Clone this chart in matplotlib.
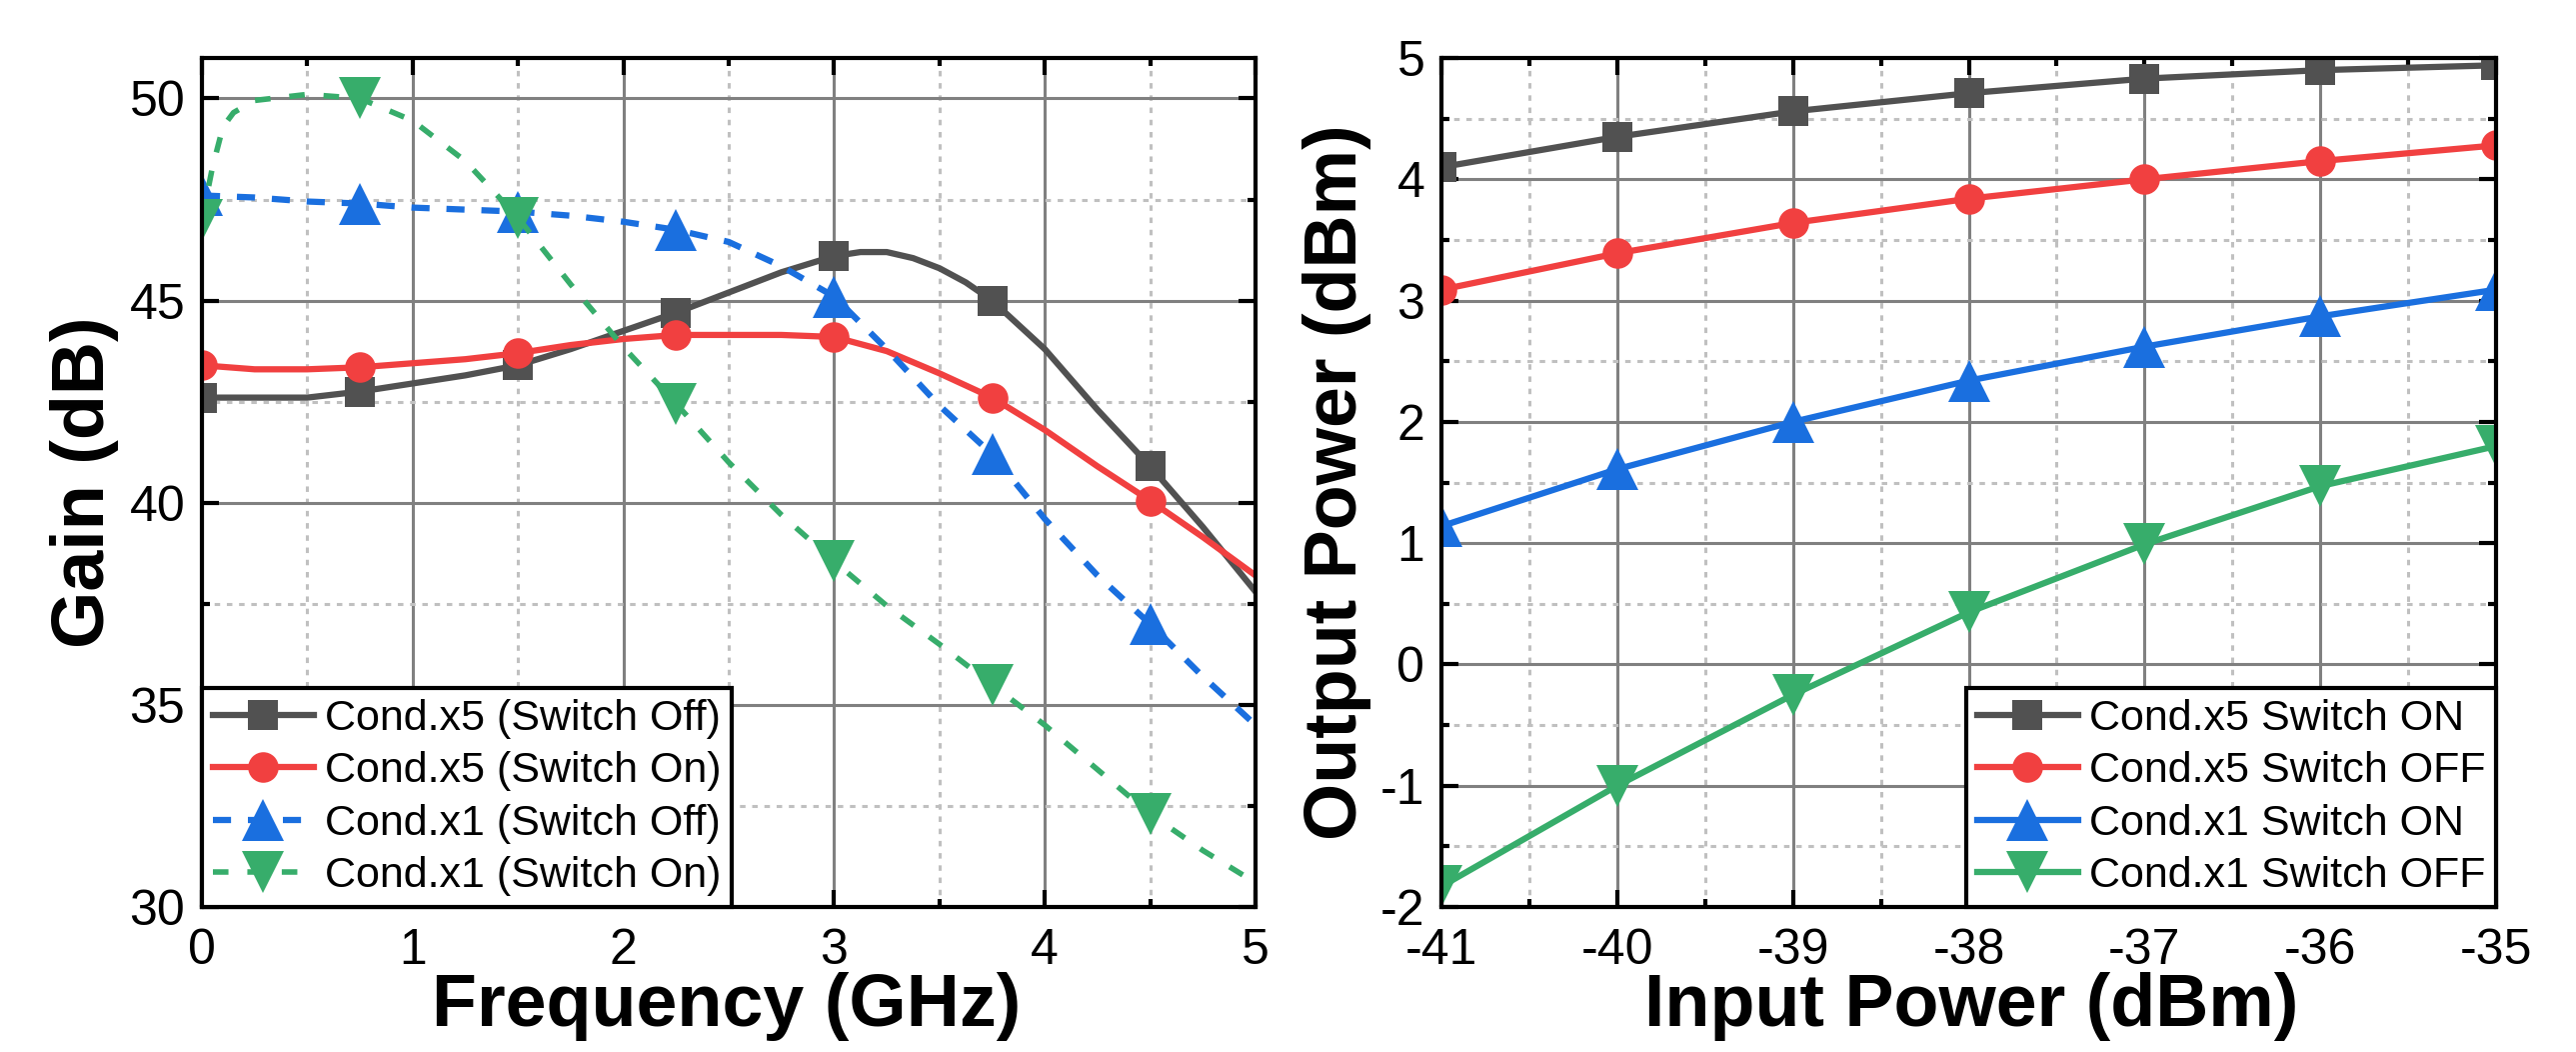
import numpy as np
import matplotlib
matplotlib.use('Agg')
import matplotlib.pyplot as plt
from matplotlib.ticker import MultipleLocator

# ---- left panel: gain vs frequency ----
freq = [0, 0.25, 0.5, 0.75, 1.0, 1.25, 1.5, 1.75, 2.0, 2.25, 2.5,
        2.75, 3.0, 3.25, 3.5, 3.75, 4.0, 4.25, 4.5, 4.75, 5.0]
# x5 / switch-off has a rounded peak, read at a finer step there
freq_x5_off = [0, 0.25, 0.5, 0.75, 1.0, 1.25, 1.5, 1.75, 2.0, 2.25, 2.5, 2.75, 3.0,
               3.125, 3.25, 3.375, 3.5, 3.625, 3.75, 4.0, 4.25, 4.5, 4.75, 5.0]
gain_x5_off = [42.6, 42.6, 42.6, 42.75, 42.95, 43.15, 43.4, 43.8, 44.25, 44.7, 45.2, 45.7, 46.1,
               46.2, 46.2, 46.05, 45.8, 45.45, 45.0, 43.8, 42.3, 40.9, 39.4, 37.8]
gain_x5_on = [43.4, 43.3, 43.3, 43.35, 43.45, 43.55, 43.7, 43.9, 44.05, 44.15, 44.15,
              44.15, 44.1, 43.75, 43.2, 42.6, 41.8, 40.9, 40.05, 39.15, 38.2]
gain_x1_off = [47.6, 47.55, 47.45, 47.4, 47.3, 47.25, 47.2, 47.1, 46.95, 46.75, 46.45,
               45.85, 45.1, 43.8, 42.4, 41.2, 39.6, 38.2, 37.0, 35.7, 34.5]
# the x1 / switch-on curve rises steeply near 0, so it has a few extra points
freq_x1_on = [0, 0.05, 0.1, 0.15, 0.25, 0.5, 0.75, 1.0, 1.25, 1.5, 1.75, 2.0, 2.25,
              2.5, 2.75, 3.0, 3.25, 3.5, 3.75, 4.0, 4.25, 4.5, 4.75, 5.0]
gain_x1_on = [47.0, 48.3, 49.3, 49.65, 49.95, 50.1, 50.0, 49.45, 48.45, 47.05, 45.4, 43.85, 42.45,
              41.0, 39.7, 38.55, 37.45, 36.5, 35.5, 34.5, 33.4, 32.3, 31.4, 30.6]
freq_markers = [0, 0.75, 1.5, 2.25, 3.0, 3.75, 4.5]
gain_labels = ['Cond.x5 (Switch Off)', 'Cond.x5 (Switch On)',
               'Cond.x1 (Switch Off)', 'Cond.x1 (Switch On)']

# ---- right panel: output power vs input power ----
pin = [-41, -40, -39, -38, -37, -36, -35]
pout_x5_on = [4.1, 4.35, 4.56, 4.71, 4.83, 4.9, 4.94]
pout_x5_off = [3.09, 3.39, 3.64, 3.84, 4.0, 4.15, 4.28]
pout_x1_on = [1.14, 1.61, 2.0, 2.34, 2.62, 2.87, 3.09]
pout_x1_off = [-1.83, -1.0, -0.25, 0.43, 0.99, 1.47, 1.8]
pout_labels = ['Cond.x5 Switch ON', 'Cond.x5 Switch OFF',
               'Cond.x1 Switch ON', 'Cond.x1 Switch OFF']

colors = ['#515151', '#f14040', '#1a6fdf', '#37ad6b']
markers = ['s', 'o', '^', 'v']
msizes = [21, 22, 30, 30]

plt.rcParams['font.family'] = ['Liberation Sans', 'DejaVu Sans']
plt.rcParams['axes.unicode_minus'] = False

fig = plt.figure(figsize=(25.77, 10.52), dpi=100)
ax1 = fig.add_axes([0.07839, 0.13783, 0.40900, 0.80703])
ax2 = fig.add_axes([0.55957, 0.13783, 0.40939, 0.80703])


def style_axes(ax):
    ax.set_axisbelow(True)
    ax.grid(which='major', color='#808080', linewidth=2.2, linestyle='-')
    ax.grid(which='minor', color='#c0c0c0', linewidth=2.2, linestyle=(0, (1.8, 2.2)))
    for sp in ax.spines.values():
        sp.set_linewidth(3.0)
        sp.set_color('black')
    ax.tick_params(which='both', direction='in', top=True, right=True, width=3.0, colors='black')
    ax.tick_params(which='major', length=12, labelsize=36)
    ax.tick_params(which='minor', length=5.5)
    ax.tick_params(axis='x', which='major', pad=15)
    ax.tick_params(axis='y', which='major', pad=12)


def marker_idx(xs, marks):
    return list(np.flatnonzero(np.isin(np.round(xs, 3), marks)))


# left panel
left_series = [
    (freq_x5_off, gain_x5_off, '-', 4.5),
    (freq, gain_x5_on, '-', 4.5),
    (freq, gain_x1_off, (0, (2.9, 2.7)), 4.5),
    (freq_x1_on, gain_x1_on, (0, (2.8, 3.4)), 4.0),
]
for i, (xs, ys, ls, lw) in enumerate(left_series):
    ax1.plot(xs, ys, color=colors[i], linestyle=ls, linewidth=lw,
             marker=markers[i], markersize=msizes[i], markeredgewidth=0,
             markevery=marker_idx(xs, freq_markers), label=gain_labels[i])

ax1.set_xlim(0, 5)
ax1.set_ylim(30, 51)
ax1.xaxis.set_major_locator(MultipleLocator(1))
ax1.xaxis.set_minor_locator(MultipleLocator(0.5))
ax1.yaxis.set_major_locator(MultipleLocator(5))
ax1.yaxis.set_minor_locator(MultipleLocator(2.5))
style_axes(ax1)
ax1.set_xlabel('Frequency (GHz)', fontsize=53, fontweight='bold')
ax1.set_ylabel('Gain (dB)', fontsize=53, fontweight='bold')
ax1.xaxis.set_label_coords(0.498, -0.077)
ax1.yaxis.set_label_coords(-0.079, 0.5)

# right panel
right_values = [pout_x5_on, pout_x5_off, pout_x1_on, pout_x1_off]
for i, ys in enumerate(right_values):
    ax2.plot(pin, ys, color=colors[i], linestyle='-', linewidth=4.5,
             marker=markers[i], markersize=msizes[i], markeredgewidth=0,
             label=pout_labels[i])

ax2.set_xlim(-41, -35)
ax2.set_ylim(-2, 5)
ax2.xaxis.set_major_locator(MultipleLocator(1))
ax2.xaxis.set_minor_locator(MultipleLocator(0.5))
ax2.yaxis.set_major_locator(MultipleLocator(1))
ax2.yaxis.set_minor_locator(MultipleLocator(0.5))
style_axes(ax2)
ax2.set_xlabel('Input Power (dBm)', fontsize=53, fontweight='bold')
ax2.set_ylabel('Output Power (dBm)', fontsize=53, fontweight='bold')
ax2.xaxis.set_label_coords(0.503, -0.077)
ax2.yaxis.set_label_coords(-0.066, 0.5)

leg_kw = dict(fontsize=31, frameon=True, fancybox=False, framealpha=1,
              edgecolor='black', borderaxespad=0, borderpad=0.25,
              labelspacing=0.29, handlelength=2.35, handletextpad=0.25)
leg1 = ax1.legend(loc='lower left', bbox_to_anchor=(0, 0), **leg_kw)
leg2 = ax2.legend(loc='lower right', bbox_to_anchor=(1, 0), **leg_kw)
for leg in (leg1, leg2):
    leg.get_frame().set_linewidth(3.0)

fig.savefig('out.png', dpi=100)
